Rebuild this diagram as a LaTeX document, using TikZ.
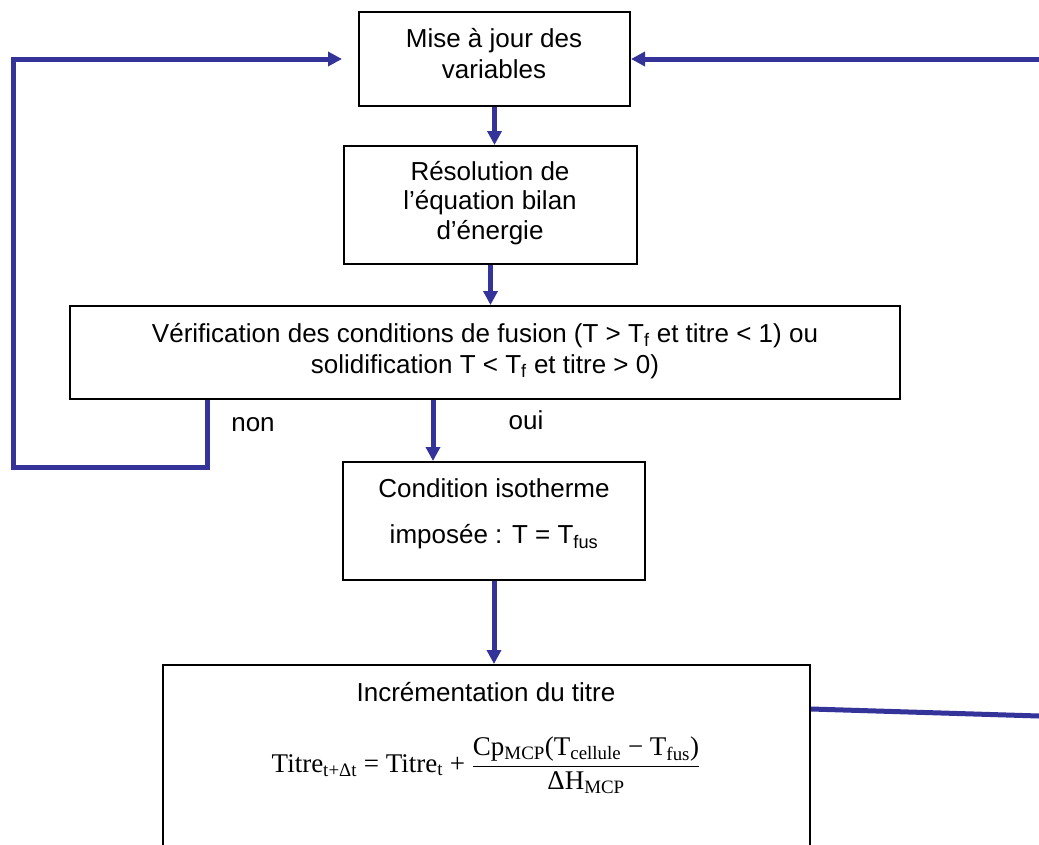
\documentclass[tikz,border=0pt]{standalone}
\usepackage{fontspec}
\setmainfont{Liberation Sans}
\newfontfamily\tms{Liberation Serif}
\usetikzlibrary{arrows.meta,calc}
\definecolor{lineblue}{RGB}{51,51,153}
\begin{document}
\begin{tikzpicture}[x=1pt,y=-1pt,
  box/.style={draw=black,line width=2pt,inner sep=0pt,fill=white},
  txt/.style={align=center,font=\fontsize{26}{31}\selectfont,inner sep=0pt},
  link/.style={draw=lineblue,line width=5pt},
  arr/.style={link,-{Triangle[length=14pt,width=14pt]}},
]
\useasboundingbox (0,0) rectangle (1039,844);
\clip (0,0) rectangle (1039,844);

% boxes
\node[box,minimum width=271pt,minimum height=94pt] (b1) at (494.5,59) {};
\node[box,minimum width=293pt,minimum height=118pt] (b2) at (490.5,205) {};
\node[box,minimum width=830pt,minimum height=93pt] (b3) at (485,352.5) {};
\node[box,minimum width=302pt,minimum height=118pt] (b4) at (494,521) {};
\node[box,minimum width=647pt,minimum height=200pt] (b5) at (486.5,765) {};

% texts
\node[txt] (t1) at (494,54) {Mise à jour des\\variables};
\node[txt,font=\fontsize{26}{29.5}\selectfont] (t2) at (490,203) {Résolution de\\l’équation bilan\\d’énergie};
\node[txt] (t3) at (485,351) {Vérification des conditions de fusion (T > T\textsubscript{f} et titre < 1) ou\\solidification T < T\textsubscript{f} et titre > 0)};
\node[txt] (t4) at (494,514) {Condition isotherme\\[15pt]imposée : T = T\textsubscript{fus}};
\node[txt] (t5) at (486,692) {Incrémentation du titre};
\node[inner sep=0pt] (f) at (486,765) {\fontsize{27}{32}\selectfont\tms Titre\textsubscript{t+Δt} = Titre\textsubscript{t} + $\displaystyle\frac{\hbox{\tms Cp\textsubscript{MCP}(T\textsubscript{cellule} − T\textsubscript{fus})}}{\hbox{\tms ΔH\textsubscript{MCP}}}$};
\node[txt] (non) at (253,425) {non};
\node[txt] (oui) at (526,420) {oui};

% connectors
\coordinate (nonA) at ($(b3.south west)+(138,0)$);
\coordinate (nonB) at (13,467);
\coordinate (ouiA) at ($(b3.south west)+(364,0)$);
\coordinate (R1) at (1039,59);
\coordinate (R2) at (1039,716);

\draw[arr] (b1.south) -- (b1.south |- b2.north);
\draw[arr] (b2.south) -- (b2.south |- b3.north);
\draw[arr] (nonA) |- (nonB) |- ([xshift=-16pt]b1.west);
\draw[arr] (ouiA) -- (ouiA |- b4.north);
\draw[arr] (b4.south) -- (b4.south |- b5.north);
\draw[arr] (R1) -- (b1.east);
\draw[link] ($(b5.north east)+(0,45)$) -- (R2);
\end{tikzpicture}
\end{document}
